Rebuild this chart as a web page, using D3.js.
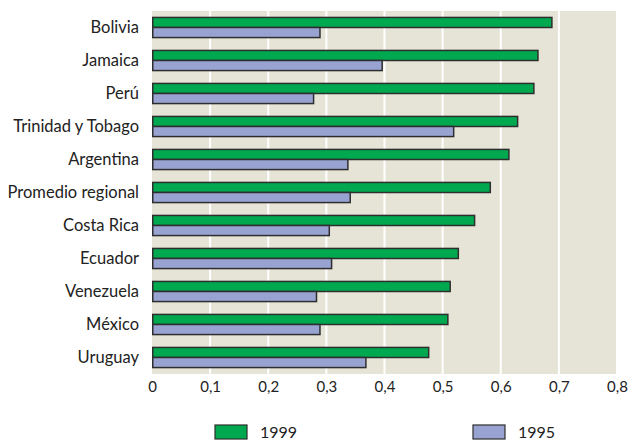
<!DOCTYPE html>
<html>
<head>
<meta charset="utf-8">
<script src="https://cdn.jsdelivr.net/npm/d3@7"></script>
<style>
  html, body { margin: 0; padding: 0; background: #fff; }
  svg { display: block; }
  text { font-family: Lato, "Open Sans", sans-serif; fill: #222; }
</style>
</head>
<body>
<svg id="chart" width="628" height="442"></svg>
<script>
// Countries, top to bottom
const categories = ["Bolivia", "Jamaica", "Perú", "Trinidad y Tobago", "Argentina",
  "Promedio regional", "Costa Rica", "Ecuador", "Venezuela", "México", "Uruguay"];
// Index values per year
const values1999 = [0.688, 0.664, 0.657, 0.629, 0.614, 0.582, 0.555, 0.527, 0.513, 0.509, 0.476];
const values1995 = [0.289, 0.396, 0.278, 0.519, 0.337, 0.341, 0.305, 0.309, 0.283, 0.289, 0.368];
const seriesNames = ["1999", "1995"];
const tickValues = [0, 0.1, 0.2, 0.3, 0.4, 0.5, 0.6, 0.7, 0.8];

const colors = { "1999": "#00a94f", "1995": "#99a3d2" };

const svg = d3.select("#chart");
const margin = { left: 152, right: 11, top: 11, bottom: 68 };
const W = 628, H = 442;
const plotW = W - margin.left - margin.right;
const plotH = H - margin.top - margin.bottom;

const x = d3.scaleLinear().domain([0, 0.8]).range([0, plotW]);
const y = d3.scaleBand().domain(categories).range([0, plotH]).paddingInner(0.39).paddingOuter(0.195);
const ySub = d3.scaleBand().domain(seriesNames).range([0, y.bandwidth()]);

const g = svg.append("g").attr("transform", `translate(${margin.left},${margin.top})`);

// Panel background
g.append("rect").attr("width", plotW).attr("height", plotH).attr("fill", "#e6e4d7");

// Vertical grid lines
g.selectAll("line.grid").data(tickValues.slice(1)).enter().append("line")
  .attr("class", "grid")
  .attr("x1", d => x(d)).attr("x2", d => x(d))
  .attr("y1", 0).attr("y2", plotH)
  .attr("stroke", "#fff").attr("stroke-width", 2);

const rows = categories.map((c, i) => ({ c, v: { "1999": values1999[i], "1995": values1995[i] } }));

const groups = g.selectAll("g.row").data(rows).enter().append("g")
  .attr("class", "row")
  .attr("transform", d => `translate(0,${y(d.c)})`);

groups.selectAll("rect").data(d => seriesNames.map(s => ({ s, v: d.v[s] }))).enter().append("rect")
  .attr("x", 0.75)
  .attr("y", d => ySub(d.s))
  .attr("width", d => x(d.v) - 0.75)
  .attr("height", ySub.bandwidth())
  .attr("fill", d => colors[d.s])
  .attr("stroke", "#2e2e2e")
  .attr("stroke-width", 1.5);

// Category labels
g.selectAll("text.cat").data(categories).enter().append("text")
  .attr("class", "cat")
  .attr("x", -13)
  .attr("y", d => y(d) + y.bandwidth() / 2)
  .attr("dy", "0.35em")
  .attr("text-anchor", "end")
  .attr("font-size", 16.5)
  .text(d => d);

// X axis labels
const fmt = d => d === 0 ? "0" : d3.format(".1f")(d).replace(".", ",");
const xAxis = d3.axisBottom(x).tickValues(tickValues).tickFormat(fmt).tickSize(0).tickPadding(7);
const ax = g.append("g").attr("transform", `translate(0,${plotH})`).call(xAxis);
ax.select(".domain").remove();
ax.selectAll("text").attr("font-size", 15).attr("fill", "#222")
  .style("font-family", "Lato, 'Open Sans', sans-serif");

// Legend
const legend = svg.append("g");
const legendItems = [{ s: "1999", x: 215 }, { s: "1995", x: 473 }];
legendItems.forEach(item => {
  legend.append("rect")
    .attr("x", item.x).attr("y", 425).attr("width", 32).attr("height", 14)
    .attr("fill", colors[item.s]).attr("stroke", "#2e2e2e").attr("stroke-width", 1.2);
  legend.append("text")
    .attr("x", item.x + 45).attr("y", 438)
    .attr("font-size", 16)
    .text(item.s);
});
</script>
</body>
</html>
